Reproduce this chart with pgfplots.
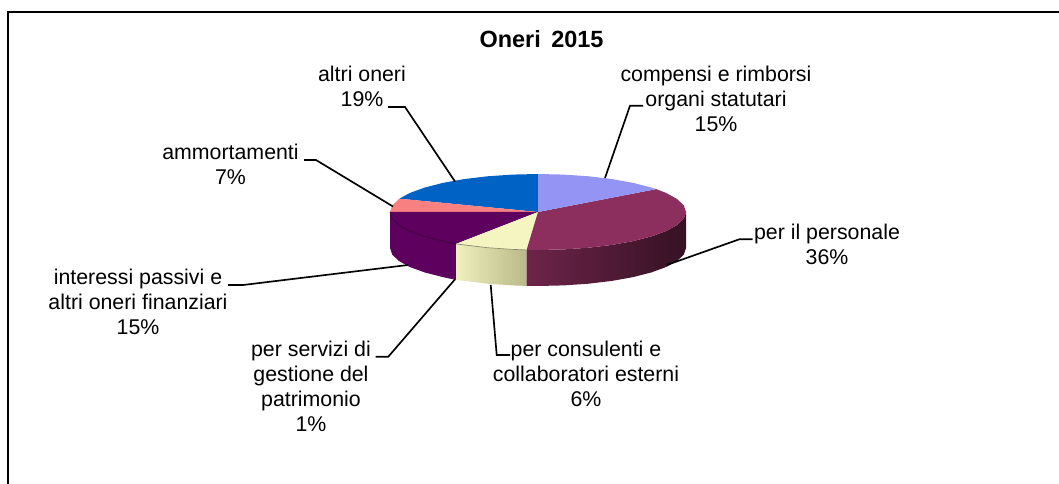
\documentclass[border=0pt]{standalone}
\usepackage{pgfplots}
\pgfplotsset{compat=1.18}
\usepackage{fontspec}
\setmainfont{Liberation Sans}
\definecolor{cCompensi}{HTML}{9494F5}
\definecolor{cPersonale}{HTML}{8C2E5E}
\definecolor{cConsulenti}{HTML}{F5F5C2}
\definecolor{cInteressi}{HTML}{5E005E}
\definecolor{cAmmort}{HTML}{F98080}
\definecolor{cAltri}{HTML}{0062C4}
\tikzset{lab/.style={align=center,inner sep=0pt,font=\fontsize{16}{18.6}\selectfont},
lead/.style={black,line width=1.25pt}}
\begin{document}
\begin{tikzpicture}
\path[use as bounding box] (0,0) rectangle (794.25pt,363pt);
\begin{axis}[at={(0,0)},anchor=south west,scale only axis,width=794.25pt,height=363pt,
  xmin=0,xmax=1059,ymin=0,ymax=484,y dir=reverse,hide axis,no markers]
% frame
\addplot[black,line width=1.4pt] coordinates {(1059,12) (8,12) (8,484)};
% side faces
\addplot[draw=none,fill=cInteressi] coordinates {(390,212)(392.2,218.6)(398.9,225)(409.8,231)(424.6,236.4)(442.8,241.1)(456,243.9)(456,279.9)(442.8,277.1)(424.6,272.4)(409.8,267)(398.9,261)(392.2,254.6)(390,248)} --cycle;
\addplot[draw=none,left color=cConsulenti!98!black,right color=cConsulenti!78!black!90!olive] coordinates {(456,243.9)(464,244.9)(487.4,247.7)(512.3,249.4)(526.6,249.9)(526.6,285.9)(512.3,285.4)(487.4,283.7)(464,280.9)(456,279.9)} --cycle;
\addplot[draw=none,left color=cPersonale!78!black,right color=cPersonale!38!black] coordinates {(526.6,249.9)(538,250)(563.7,249.4)(588.6,247.7)(612,244.9)(633.2,241.1)(651.4,236.4)(666.2,231)(677.1,225)(683.8,218.6)(686,212)(686,248)(683.8,254.6)(677.1,261)(666.2,267)(651.4,272.4)(633.2,277.1)(612,280.9)(588.6,283.7)(563.7,285.4)(538,286)(526.6,285.9)} --cycle;
% top faces
\addplot[draw=none,fill=cAltri] coordinates {(538,212)(399.3,198.7)(409.8,193)(424.6,187.6)(442.8,182.9)(464,179.1)(487.4,176.3)(512.3,174.6)(538,174)} --cycle;
\addplot[draw=none,fill=cAmmort] coordinates {(538,212)(390,212)(392.2,205.4)(399.3,198.7)} --cycle;
\addplot[draw=none,fill=cInteressi] coordinates {(538,212)(456,243.9)(442.8,241.1)(424.6,236.4)(409.8,231)(398.9,225)(392.2,218.6)(390,212)} --cycle;
\addplot[draw=none,fill=cConsulenti] coordinates {(538,212)(526.6,249.9)(512.3,249.4)(487.4,247.7)(464,244.9)(456,243.9)} --cycle;
\addplot[draw=none,fill=cPersonale] coordinates {(538,212)(656.2,189.1)(666.2,193)(677.1,199)(683.8,205.4)(686,212)(683.8,218.6)(677.1,225)(666.2,231)(651.4,236.4)(633.2,241.1)(612,244.9)(588.6,247.7)(563.7,249.4)(538,250)(526.6,249.9)} --cycle;
\addplot[draw=none,fill=cCompensi] coordinates {(538,212)(538,174)(563.7,174.6)(588.6,176.3)(612,179.1)(633.2,182.9)(651.4,187.6)(656.2,189.1)} --cycle;
% thin rims
\addplot[color=cInteressi!60!black,line width=0.5pt] coordinates {(390,212)(392.2,218.6)(398.9,225)(409.8,231)(424.6,236.4)(442.8,241.1)(456,243.9)};
\addplot[color=cConsulenti!55!black,line width=0.5pt] coordinates {(456,243.9)(464,244.9)(487.4,247.7)(512.3,249.4)(526.6,249.9)};
% leader lines
\addplot[lead] coordinates {(388,107)(405,107)(455,181.5)};
\addplot[lead] coordinates {(304,160)(316,160)(393,206.5)};
\addplot[lead] coordinates {(643,105.7)(630,105.7)(605,178)};
\addplot[lead] coordinates {(752.7,239.3)(739.3,239.3)(666.7,265)};
\addplot[lead] coordinates {(510,355)(496.7,355)(490.7,285)};
\addplot[lead] coordinates {(375.7,356.7)(388.3,356.7)(455,279.3)};
\addplot[lead] coordinates {(228,285)(243,285)(408,265)};
% text
\node[inner sep=0pt,font=\fontsize{17.6}{20}\selectfont\bfseries] at (axis cs:541.5,39) {Oneri\hspace{3pt} 2015};
\node[lab] at (axis cs:362,86) {altri oneri\\19\%};
\node[lab] at (axis cs:230.5,164) {ammortamenti\\7\%};
\node[lab] at (axis cs:716,99) {compensi e rimborsi\\organi statutari\\15\%};
\node[lab] at (axis cs:827,244) {per il personale\\36\%};
\node[lab] at (axis cs:586,374) {per consulenti e\\collaboratori esterni\\6\%};
\node[lab] at (axis cs:311,386.5) {per servizi di\\gestione del\\patrimonio\\1\%};
\node[lab] at (axis cs:138,302) {interessi passivi e\\altri oneri finanziari\\15\%};
\end{axis}
\end{tikzpicture}
\end{document}
